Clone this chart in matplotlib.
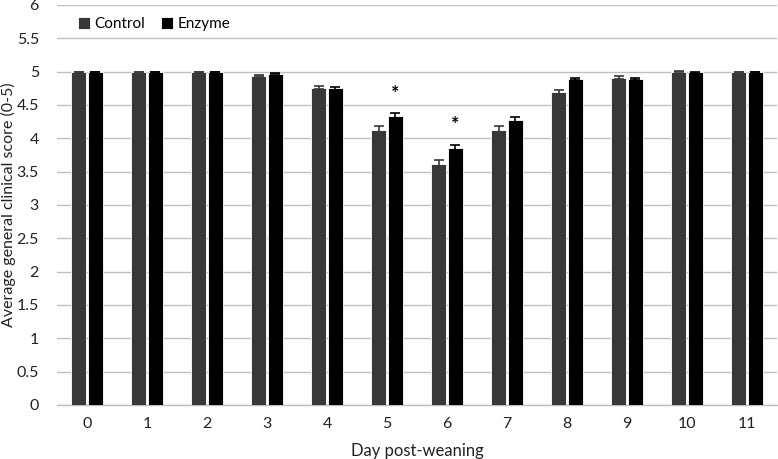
import numpy as np
import matplotlib.pyplot as plt

plt.rcParams['font.family'] = ['Lato', 'DejaVu Sans']

days = ['0', '1', '2', '3', '4', '5', '6', '7', '8', '9', '10', '11']
control = [5.0, 5.0, 5.0, 4.94, 4.76, 4.13, 3.61, 4.13, 4.70, 4.91, 5.0, 5.0]
enzyme = [5.0, 5.0, 5.0, 4.97, 4.75, 4.33, 3.85, 4.27, 4.89, 4.89, 4.99, 5.0]
control_err = [0, 0, 0, 0.01, 0.02, 0.06, 0.06, 0.05, 0.03, 0.02, 0.01, 0]
enzyme_err = [0, 0, 0, 0.01, 0.02, 0.05, 0.05, 0.05, 0.01, 0.02, 0.01, 0]
signif = ['', '', '', '', '', '*', '*', '', '', '', '', '']

fig = plt.figure(figsize=(7.78, 4.59), dpi=100)
ax = fig.add_axes([57/778, 1 - 405/459, 720/778, 400/459])

x = np.arange(len(days))
w = 0.26
ax.bar(x - 0.14, control, w, color='#383838', edgecolor='white', linewidth=0.6,
       label='Control', zorder=3)
ax.bar(x + 0.14, enzyme, w, color='#000000', edgecolor='white', linewidth=0.6,
       label='Enzyme', zorder=3)
ax.errorbar(x - 0.14, control, yerr=control_err, fmt='none', ecolor='#383838',
            elinewidth=1.2, capsize=3.5, capthick=1.2, zorder=4)
ax.errorbar(x + 0.14, enzyme, yerr=enzyme_err, fmt='none', ecolor='#000000',
            elinewidth=1.2, capsize=3.5, capthick=1.2, zorder=4)

for i, s in enumerate(signif):
    if s:
        ax.text(x[i] + 0.14, enzyme[i] + enzyme_err[i] + 0.3, s, ha='center',
                va='center', fontsize=14, fontweight='bold')

ax.set_xlim(-0.5, 11.5)
ax.set_ylim(0, 6)
ax.set_yticks(np.arange(0, 6.01, 0.5))
ax.set_yticklabels(['0', '0.5', '1', '1.5', '2', '2.5', '3', '3.5', '4', '4.5', '5', '5.5', '6'])
ax.set_xticks(x)
ax.set_xticklabels(days)
ax.yaxis.grid(True, color='#bfbfbf', linewidth=1, zorder=0)
ax.set_axisbelow(True)
for sp in ['top', 'right', 'left']:
    ax.spines[sp].set_visible(False)
ax.spines['bottom'].set_color('#bfbfbf')
ax.spines['bottom'].set_linewidth(1)
ax.tick_params(axis='both', length=0, labelsize=11.5, colors='#222222')
ax.tick_params(axis='x', pad=9)
ax.tick_params(axis='y', pad=13)

ax.set_xlabel('Day post-weaning', fontsize=12, color='#222222', labelpad=8)
ax.set_ylabel('Average general clinical score (0-5)', fontsize=11.5, color='#222222')
ax.yaxis.set_label_coords(-0.057, 0.5)

ax.legend(loc='upper left', bbox_to_anchor=(0.012, 1.0), ncol=2, frameon=False,
          fontsize=11, handlelength=0.8, handleheight=0.8, handletextpad=0.3,
          columnspacing=1.0, borderaxespad=0.4)

fig.savefig('out.png', dpi=100)
